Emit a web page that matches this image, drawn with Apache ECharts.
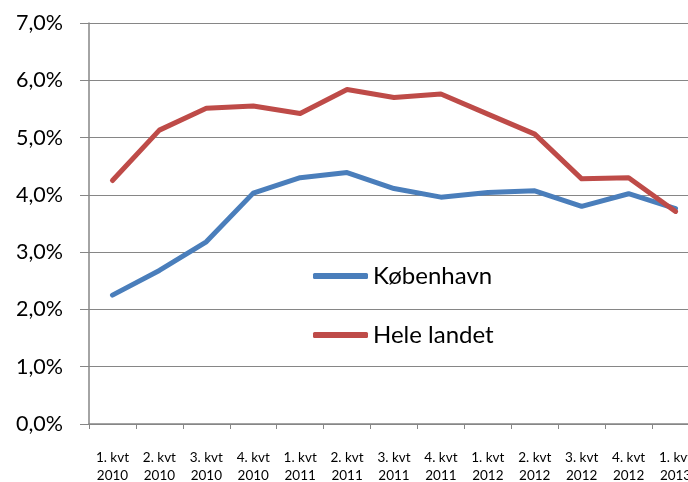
<!DOCTYPE html>
<html lang="da">
<head>
    <meta charset="UTF-8">
    <title>København / Hele landet</title>
    <script src="https://cdn.jsdelivr.net/npm/echarts@6/dist/echarts.min.js"></script>
    <style>
        html, body { margin: 0; padding: 0; background: #fff; }
        #chart { width: 688px; height: 482px; }
    </style>
</head>
<body>
    <div id="chart"></div>
    <script>
        // kvartaler
        const categories = [
            '1. kvt\n2010', '2. kvt\n2010', '3. kvt\n2010', '4. kvt\n2010',
            '1. kvt\n2011', '2. kvt\n2011', '3. kvt\n2011', '4. kvt\n2011',
            '1. kvt\n2012', '2. kvt\n2012', '3. kvt\n2012', '4. kvt\n2012',
            '1. kvt\n2013'
        ];
        // værdier i procent
        const kobenhavn = [2.25, 2.68, 3.18, 4.03, 4.30, 4.39, 4.11, 3.96, 4.04, 4.07, 3.80, 4.02, 3.76];
        const heleLandet = [4.25, 5.13, 5.51, 5.55, 5.42, 5.84, 5.70, 5.76, 5.41, 5.06, 4.28, 4.30, 3.71];

        const gray = '#868686';
        const font = 'Lato, "Liberation Sans", sans-serif';

        let chart = echarts.init(document.getElementById('chart'), null, { renderer: 'canvas' });
        let option = {
            animation: false,
            backgroundColor: '#fff',
            textStyle: { fontFamily: font, color: '#000' },
            grid: {
                left: 89, top: 23, width: 610, height: 401,
                containLabel: false,
                outerBoundsMode: 'none'   // grafen er beskåret i højre side
            },
            legend: {
                orient: 'vertical',
                left: 313,
                top: 263,
                padding: 0,
                itemGap: 33,
                itemWidth: 55,
                itemHeight: 6,
                icon: 'roundRect',
                textStyle: { fontSize: 24, lineHeight: 26, fontFamily: font, color: '#000' },
                data: ['København', 'Hele landet']
            },
            xAxis: {
                type: 'category',
                data: categories,
                boundaryGap: true,
                axisLine: { lineStyle: { color: gray, width: 1.5 } },
                axisTick: { show: true, length: 5, lineStyle: { color: gray } },
                axisLabel: {
                    interval: 0,
                    margin: 25,
                    fontSize: 13.5,
                    lineHeight: 17.5,
                    color: '#000',
                    fontFamily: font
                },
                splitLine: { show: false }
            },
            yAxis: {
                type: 'value',
                min: 0,
                max: 7,
                interval: 1,
                axisLine: { show: true, lineStyle: { color: gray, width: 1.5 } },
                axisTick: { show: true, length: 9, lineStyle: { color: gray } },
                axisLabel: {
                    margin: 26,
                    fontSize: 21.5,
                    color: '#000',
                    fontFamily: font,
                    formatter: v => v.toFixed(1).replace('.', ',') + '%'
                },
                splitLine: { show: true, lineStyle: { color: gray, width: 1.2 } }
            },
            series: [
                {
                    name: 'København',
                    type: 'line',
                    data: kobenhavn,
                    showSymbol: false,
                    symbol: 'none',
                    color: '#4A7EBB',
                    lineStyle: { width: 5, color: '#4A7EBB', cap: 'round', join: 'round' }
                },
                {
                    name: 'Hele landet',
                    type: 'line',
                    data: heleLandet,
                    showSymbol: false,
                    symbol: 'none',
                    color: '#BE4B48',
                    lineStyle: { width: 5, color: '#BE4B48', cap: 'round', join: 'round' }
                }
            ]
        };
        chart.setOption(option);
    </script>
</body>
</html>
